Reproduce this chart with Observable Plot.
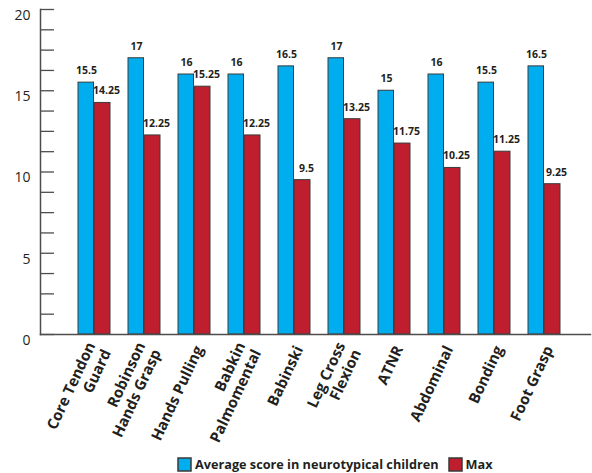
<!DOCTYPE html>
<html>
<head>
<meta charset="utf-8">
<script src="https://cdn.jsdelivr.net/npm/d3@7"></script>
<script src="https://cdn.jsdelivr.net/npm/@observablehq/plot@0.6"></script>
<style>
  body { margin: 0; background: #fff; }
  #chart { position: relative; width: 592px; height: 473px; font-family: "Open Sans", sans-serif; }
  #chart .lg-swatches { position: absolute; left: 178px; top: 455px; margin: 0; min-height: 0;
    font: bold 12.7px "Open Sans", sans-serif; color: #231f20; }
  #chart .lg-swatch { margin-right: 10px; }
  #chart .lg-swatch > svg { margin-right: 4px; }
  #chart .lg-swatch > svg rect { stroke: #3a3a3a; stroke-width: 1.5; }
</style>
</head>
<body>
<div id="chart"></div>
<script>
// Primitive reflex scores per reflex
const categories = [
  "Core Tendon\nGuard", "Robinson\nHands Grasp", "Hands Pulling", "Babkin\nPalmomental",
  "Babinski", "Leg Cross\nFlexion", "ATNR", "Abdominal", "Bonding", "Foot Grasp"
];
const averageScores = [15.5, 17, 16, 16, 16.5, 17, 15, 16, 15.5, 16.5];
const maxScores = [14.25, 12.25, 15.25, 12.25, 9.5, 13.25, 11.75, 10.25, 11.25, 9.25];
const seriesNames = ["Average score in neurotypical children", "Max"];
const seriesColors = ["#00aeef", "#be1e2d"];
const yTickLabels = [0, 5, 10, 15, 20];

const avgRows = categories.map((c, i) => ({category: c, series: seriesNames[0], value: averageScores[i]}));
const maxRows = categories.map((c, i) => ({category: c, series: seriesNames[1], value: maxScores[i]}));

// minor tick every 1.25 points up the y axis
const yMinorTicks = d3.range(0, 20 + 1e-9, 1.25);

const barStyle = {x: "category", y: "value", fill: "series", stroke: "#3a3a3a", strokeWidth: 1};
const labelStyle = {
  x: "category", y: "value", text: d => String(d.value),
  fontSize: 10.5, fontWeight: "bold", fill: "#231f20", dy: -12
};

const plot = Plot.plot({
  width: 592,
  height: 445,
  marginTop: 9,
  marginLeft: 40,
  marginRight: 2,
  marginBottom: 111,
  style: {fontFamily: "'Open Sans', sans-serif", color: "#231f20", background: "#fff", overflow: "visible"},
  x: {type: "band", domain: categories, range: [75, 563], paddingInner: 0.368, paddingOuter: 0, label: null},
  y: {domain: [0, 20], label: null},
  color: {domain: seriesNames, range: seriesColors},
  marks: [
    Plot.barY(avgRows, {...barStyle, insetRight: 16.5}),
    Plot.barY(maxRows, {...barStyle, insetLeft: 16}),
    Plot.text(avgRows, {...labelStyle, dx: -8}),
    Plot.text(maxRows, {...labelStyle, dx: 12}),
    Plot.axisY(yMinorTicks, {tickSize: 14, dx: 14, fill: "none", stroke: "#4d4d4d", strokeWidth: 1.3, label: null}),
    Plot.axisY(yTickLabels, {tickSize: 0, tickPadding: 10, dy: 6, fontSize: 14, fill: "#231f20", label: null}),
    Plot.axisX({tickRotate: -65, tickSize: 0, tickPadding: 12, dx: 4, fontSize: 15, fontWeight: "bold",
      lineHeight: 1.15, fill: "#231f20", label: null}),
    Plot.frame({anchor: "left", stroke: "#4d4d4d", strokeWidth: 1.5}),
    Plot.frame({anchor: "bottom", stroke: "#4d4d4d", strokeWidth: 1.5})
  ]
});

const chart = document.getElementById("chart");
chart.append(plot);
chart.append(plot.legend("color", {className: "lg", swatchSize: 13}));
</script>
</body>
</html>
